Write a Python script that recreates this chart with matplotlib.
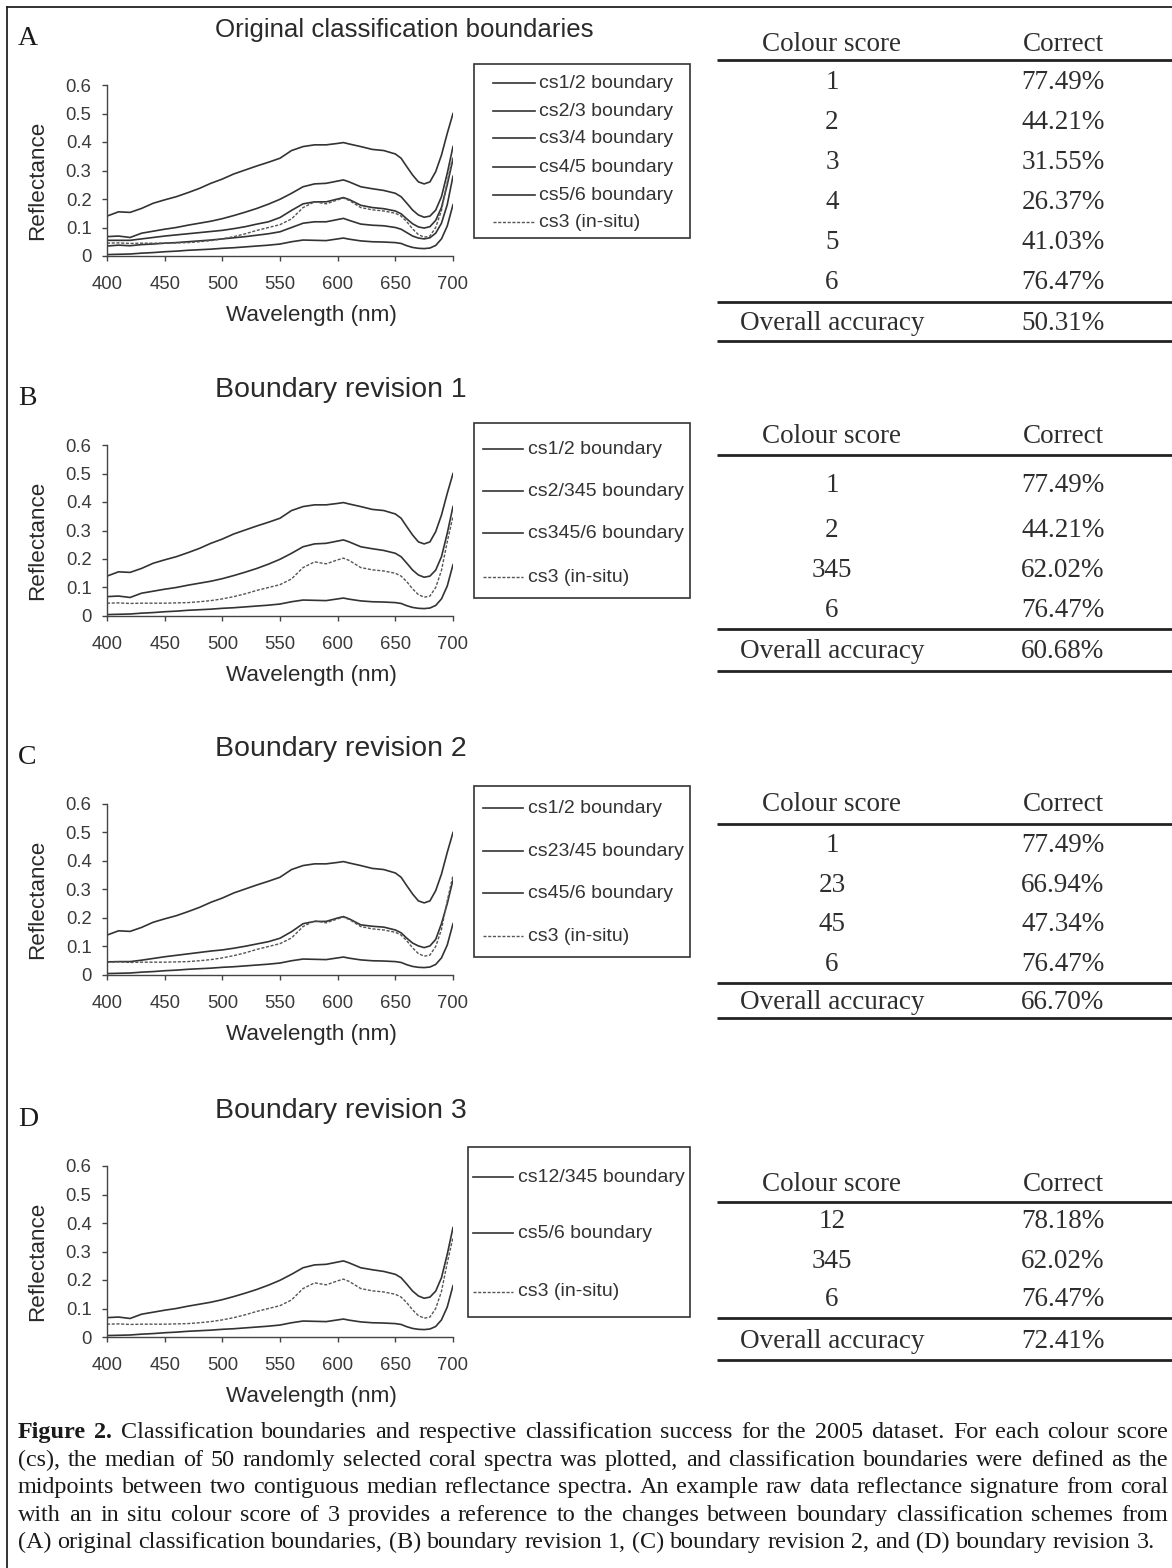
import matplotlib
matplotlib.use('Agg')
import matplotlib.pyplot as plt

W, H = 1172, 1568

# spectra (reflectance vs wavelength, nm)
wavelength = [400, 410, 420, 430, 440, 450, 460, 470, 480, 490, 500, 510, 520, 530, 540,
              550, 560, 570, 580, 590, 600, 605, 610, 620, 630, 640, 650, 655, 660, 665,
              670, 675, 680, 685, 690, 695, 700]
cs1_2 = [0.140, 0.155, 0.153, 0.167, 0.185, 0.197, 0.208, 0.222, 0.237, 0.255, 0.270, 0.288,
         0.302, 0.316, 0.329, 0.343, 0.370, 0.384, 0.390, 0.390, 0.395, 0.398, 0.393, 0.384,
         0.374, 0.370, 0.358, 0.343, 0.313, 0.284, 0.260, 0.253, 0.260, 0.296, 0.354, 0.430, 0.500]
cs2_3 = [0.068, 0.070, 0.065, 0.080, 0.087, 0.094, 0.100, 0.108, 0.115, 0.122, 0.131, 0.142,
         0.154, 0.167, 0.182, 0.199, 0.220, 0.243, 0.253, 0.255, 0.263, 0.267, 0.260, 0.243,
         0.236, 0.230, 0.220, 0.208, 0.185, 0.161, 0.144, 0.136, 0.140, 0.161, 0.208, 0.290, 0.384]
cs3_4 = [0.055, 0.055, 0.055, 0.060, 0.065, 0.070, 0.074, 0.078, 0.082, 0.086, 0.090, 0.096,
         0.103, 0.112, 0.120, 0.135, 0.160, 0.183, 0.190, 0.190, 0.200, 0.205, 0.198, 0.178,
         0.170, 0.166, 0.158, 0.148, 0.130, 0.113, 0.102, 0.098, 0.103, 0.125, 0.170, 0.250, 0.340]
cs4_5 = [0.035, 0.038, 0.036, 0.040, 0.042, 0.045, 0.047, 0.050, 0.053, 0.056, 0.060, 0.064,
         0.068, 0.073, 0.078, 0.085, 0.100, 0.115, 0.120, 0.120, 0.128, 0.132, 0.125, 0.112,
         0.108, 0.106, 0.100, 0.094, 0.082, 0.070, 0.063, 0.060, 0.064, 0.080, 0.115, 0.180, 0.280]
cs5_6 = [0.005, 0.006, 0.007, 0.010, 0.012, 0.015, 0.017, 0.020, 0.022, 0.024, 0.027, 0.029,
         0.032, 0.035, 0.038, 0.042, 0.050, 0.056, 0.055, 0.054, 0.060, 0.063, 0.059, 0.053,
         0.050, 0.049, 0.047, 0.044, 0.036, 0.030, 0.027, 0.026, 0.028, 0.037, 0.060, 0.105, 0.180]
cs23_45 = [0.046, 0.047, 0.047, 0.052, 0.058, 0.064, 0.069, 0.074, 0.079, 0.084, 0.088, 0.094,
           0.101, 0.109, 0.117, 0.129, 0.152, 0.180, 0.188, 0.188, 0.200, 0.205, 0.197, 0.176,
           0.171, 0.168, 0.158, 0.148, 0.129, 0.112, 0.102, 0.096, 0.102, 0.125, 0.180, 0.250, 0.334]
insitu = [0.045, 0.046, 0.044, 0.045, 0.045, 0.045, 0.046, 0.047, 0.050, 0.054, 0.060, 0.068,
          0.078, 0.090, 0.100, 0.110, 0.130, 0.170, 0.190, 0.183, 0.197, 0.203, 0.195, 0.170,
          0.162, 0.158, 0.150, 0.140, 0.120, 0.095, 0.075, 0.066, 0.070, 0.100, 0.160, 0.260, 0.350]

titles = ['Original classification boundaries', 'Boundary revision 1',
          'Boundary revision 2', 'Boundary revision 3']
letters = ['A', 'B', 'C', 'D']

series_a = [('cs1/2 boundary', cs1_2), ('cs2/3 boundary', cs2_3), ('cs3/4 boundary', cs3_4),
            ('cs4/5 boundary', cs4_5), ('cs5/6 boundary', cs5_6), ('cs3 (in-situ)', insitu)]
series_b = [('cs1/2 boundary', cs1_2), ('cs2/345 boundary', cs2_3),
            ('cs345/6 boundary', cs5_6), ('cs3 (in-situ)', insitu)]
series_c = [('cs1/2 boundary', cs1_2), ('cs23/45 boundary', cs23_45),
            ('cs45/6 boundary', cs5_6), ('cs3 (in-situ)', insitu)]
series_d = [('cs12/345 boundary', cs2_3), ('cs5/6 boundary', cs5_6), ('cs3 (in-situ)', insitu)]

scores_a = ['1', '2', '3', '4', '5', '6']
correct_a = ['77.49%', '44.21%', '31.55%', '26.37%', '41.03%', '76.47%']
scores_b = ['1', '2', '345', '6']
correct_b = ['77.49%', '44.21%', '62.02%', '76.47%']
scores_c = ['1', '23', '45', '6']
correct_c = ['77.49%', '66.94%', '47.34%', '76.47%']
scores_d = ['12', '345', '6']
correct_d = ['78.18%', '62.02%', '76.47%']
overall = ['50.31%', '60.68%', '66.70%', '72.41%']

caption = [
    "Classification boundaries and respective classification success for the 2005 dataset. For each colour score",
    "(cs), the median of 50 randomly selected coral spectra was plotted, and classification boundaries were defined as the",
    "midpoints between two contiguous median reflectance spectra. An example raw data reflectance signature from coral",
    "with an in situ colour score of 3 provides a reference to the changes between boundary classification schemes from",
    "(A) original classification boundaries, (B) boundary revision 1, (C) boundary revision 2, and (D) boundary revision 3.",
]

SANS = 'Liberation Sans'
SERIF = 'Liberation Serif'
INK = '#2e2e2e'
LINE = '#333333'

fig = plt.figure(figsize=(W / 100, H / 100), dpi=100)
ov = fig.add_axes([0, 0, 1, 1], zorder=0)
ov.set_xlim(0, W)
ov.set_ylim(H, 0)
ov.axis('off')

# frame of the scanned figure
ov.plot([7, 7], [7, H], color='#222222', lw=1.3, clip_on=False)
ov.plot([7, W], [7, 7], color='#222222', lw=1.3, clip_on=False)


def style(label):
    if 'in-situ' in label:
        return dict(color='#555555', lw=1.0, ls=(0, (2.2, 1.2)))
    return dict(color=LINE, lw=1.2, ls='-')


def panel(top, letter, title, series, title_size):
    ax = fig.add_axes([107 / W, 1 - (top + 171) / H, 346 / W, 171 / H], zorder=1)
    ax.patch.set_alpha(0)
    for label, vals in series:
        ax.plot(wavelength, vals, **style(label))
    ax.set_xlim(400, 700)
    ax.set_ylim(0, 0.6)
    ax.set_xticks(range(400, 701, 50))
    ax.set_yticks([0, 0.1, 0.2, 0.3, 0.4, 0.5, 0.6])
    ax.set_yticklabels(['0', '0.1', '0.2', '0.3', '0.4', '0.5', '0.6'])
    for s in ['top', 'right']:
        ax.spines[s].set_visible(False)
    for s in ['left', 'bottom']:
        ax.spines[s].set_color('#444444')
        ax.spines[s].set_linewidth(1.0)
    ax.tick_params(axis='both', direction='out', length=3.6, width=1.0, color='#444444',
                   labelsize=13.3, labelcolor='#3a3a3a')
    ax.tick_params(axis='x', pad=11)
    ax.tick_params(axis='y', pad=7.5)
    for t in ax.get_xticklabels() + ax.get_yticklabels():
        t.set_family(SANS)
    ax.set_xlabel('Wavelength (nm)', fontsize=16.2, family=SANS, color='#2a2a2a')
    ax.set_ylabel('Reflectance', fontsize=16.2, family=SANS, color='#2a2a2a')
    ax.xaxis.set_label_coords(0.59, -0.285)
    ax.yaxis.set_label_coords(-0.17, 0.444)
    ov.text(215, top - 48, title, family=SANS, fontsize=title_size, color='#2a2a2a',
            ha='left', va='baseline')
    ov.text(18, top - 40, letter, family=SERIF, fontsize=20, color='#1a1a1a',
            ha='left', va='baseline')
    return ax


def legend_box(x0, x1, y0, y1, rows, series, hx0, hx1, tx):
    ov.add_patch(plt.Rectangle((x0, y0), x1 - x0, y1 - y0, fill=False,
                               edgecolor='#333333', lw=1.2))
    for y, (label, vals) in zip(rows, series):
        st = style(label)
        ov.plot([hx0, hx1], [y, y], color=st['color'], lw=st['lw'], ls=st['ls'])
        ov.text(tx, y, label, family=SANS, fontsize=14, color='#333333',
                ha='left', va='center')


def table(header_y, rule1, rows, scores, correct, rule2, overall_y, total, rule3):
    ov.text(832, header_y, 'Colour score', family=SERIF, fontsize=19.5, color=INK,
            ha='center', va='baseline')
    ov.text(1063, header_y, 'Correct', family=SERIF, fontsize=19.5, color=INK,
            ha='center', va='baseline')
    for y, s, c in zip(rows, scores, correct):
        ov.text(832, y, s, family=SERIF, fontsize=19.5, color=INK, ha='center', va='baseline')
        ov.text(1063, y, c, family=SERIF, fontsize=19.5, color=INK, ha='center', va='baseline')
    ov.text(832, overall_y, 'Overall accuracy', family=SERIF, fontsize=19.5, color=INK,
            ha='center', va='baseline')
    ov.text(1063, overall_y, total, family=SERIF, fontsize=19.5, color=INK,
            ha='center', va='baseline')
    for y in [rule1, rule2, rule3]:
        ov.plot([717, W], [y, y], color='#222222', lw=2.0, clip_on=False,
                solid_capstyle='butt')


# panel A
panel(85, letters[0], titles[0], series_a, 18.6)
legend_box(474, 690, 64, 238, [83, 111, 138, 167, 195, 222], series_a, 493, 535, 539)
table(51, 60, [89, 129, 169, 209, 249, 289], scores_a, correct_a, 302, 330, overall[0], 341)

# panel B
panel(445, letters[1], titles[1], series_b, 20.5)
legend_box(474, 690, 423, 598, [449, 491, 533, 577], series_b, 483, 523, 528)
table(443, 455, [492, 537, 577, 617], scores_b, correct_b, 629, 658, overall[1], 671)

# panel C
panel(804, letters[2], titles[2], series_c, 20.5)
legend_box(474, 690, 786, 957, [808, 851, 893, 936], series_c, 483, 523, 528)
table(811, 824, [852, 892, 931, 971], scores_c, correct_c, 983, 1009, overall[2], 1018)

# panel D
panel(1166, letters[3], titles[3], series_d, 20.5)
legend_box(468, 690, 1147, 1317, [1177, 1233, 1292], series_d, 473, 513, 518)
table(1191, 1202, [1228, 1268, 1306], scores_d, correct_d, 1318, 1348, overall[3], 1360)

# caption, justified line by line, kept inside the page
renderer = fig.canvas.get_renderer()
cap_size = 17.4
base_y = [1438, 1466, 1493, 1521, 1548]
right_edge = 1168


def width(t):
    return t.get_window_extent(renderer=renderer).width


probe = ov.text(0, 0, 'x x', family=SERIF, fontsize=cap_size)
probe2 = ov.text(0, 0, 'xx', family=SERIF, fontsize=cap_size)
space_w = width(probe) - width(probe2)
probe.remove()
probe2.remove()

for i, line in enumerate(caption):
    words = line.split(' ')
    items = []
    if i == 0:
        items.append(ov.text(0, base_y[i], 'Figure', family=SERIF, fontsize=cap_size,
                             weight='bold', color='#1a1a1a', va='baseline'))
        items.append(ov.text(0, base_y[i], '2.', family=SERIF, fontsize=cap_size,
                             weight='bold', color='#1a1a1a', va='baseline'))
    for w in words:
        items.append(ov.text(0, base_y[i], w, family=SERIF, fontsize=cap_size,
                             color='#1a1a1a', va='baseline'))
    widths = [width(t) for t in items]
    natural = sum(widths) + space_w * (len(items) - 1)
    if i < len(caption) - 1 or natural > right_edge - 18:
        gap = (right_edge - 18 - sum(widths)) / (len(items) - 1)
    else:
        gap = space_w
    x = 18
    for t, wd in zip(items, widths):
        t.set_x(x)
        t.set_clip_on(False)
        x += wd + gap

fig.savefig('out.png', dpi=100)
